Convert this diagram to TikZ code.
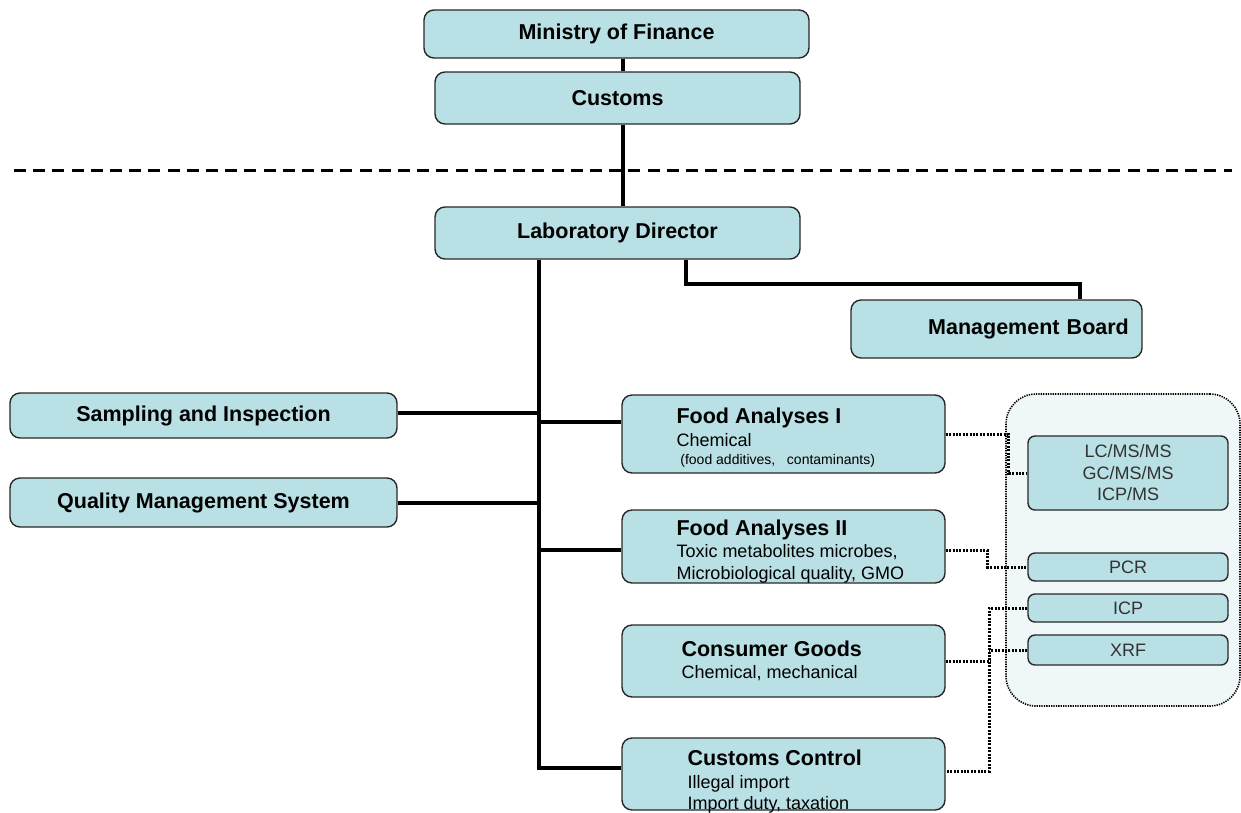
\documentclass[tikz,border=0pt]{standalone}
\usepackage{fontspec}
\setmainfont{Liberation Sans}
\definecolor{boxfill}{RGB}{185,224,228}
\definecolor{boxline}{RGB}{40,40,40}
\definecolor{grpfill}{RGB}{240,247,249}
\definecolor{txtgray}{RGB}{50,50,50}
\newcommand\fsBig{\fontsize{21.5}{25}\selectfont\bfseries}
\newcommand\fsMid{\fontsize{18}{21.5}\selectfont}
\newcommand\fsSm{\fontsize{14}{18}\selectfont}
\tikzset{
  box/.style={draw=boxline, line width=1.4pt, fill=boxfill, rounded corners=10pt, inner sep=0pt, font=\fsBig},
  instr/.style={draw=boxline, line width=1.4pt, fill=boxfill, rounded corners=7pt, inner sep=0pt, font=\fsMid, text=txtgray, align=center},
  grp/.style={draw=black, line width=1.6pt, dash pattern=on 1.3pt off 1.1pt, fill=grpfill, rounded corners=30pt, inner sep=0pt},
  conn/.style={line width=4pt, line cap=butt},
  dotc/.style={line width=3pt, dash pattern=on 2pt off 1.4pt},
  lbl/.style={anchor=west, align=left, font=\fsMid, inner sep=0pt}
}
\begin{document}
\begin{tikzpicture}[x=1pt,y=-1pt]
\useasboundingbox (0,0) rectangle (1241,812);
% group container
\node[grp, minimum width=234pt, minimum height=312pt] (grp) at (1123,550) {};
% top
\node[box, minimum width=385pt, minimum height=48pt] (mof) at (616.5,34) {Ministry of Finance};
\node[box, minimum width=365pt, minimum height=52pt] (cus) at (617.5,98) {Customs};
\node[box, minimum width=365pt, minimum height=52pt] (ld) at (617.5,233) {Laboratory Director};
\node[box, minimum width=291pt, minimum height=58pt, text width=291pt, align=center] (mb) at (996.5,329) {\hspace*{64pt}Management Board};
% left
\node[box, minimum width=387pt, minimum height=45pt] (si) at (203.5,415.5) {Sampling and Inspection};
\node[box, minimum width=387pt, minimum height=49pt] (qms) at (203.5,502.5) {Quality Management System};
% departments
\node[box, minimum width=323pt, minimum height=78pt,
  label={[lbl, xshift=55pt, yshift=-4pt]west:{{\fsBig Food Analyses I}\\[1pt]Chemical\\[-3pt]{\fsSm\ (food additives, \ \ contaminants)}}}] (fa1) at (783.5,434) {};
\node[box, minimum width=323pt, minimum height=73pt,
  label={[lbl, xshift=55pt, yshift=-5pt]west:{{\fsBig Food Analyses II}\\[1pt]Toxic metabolites microbes,\\Microbiological quality, GMO}}] (fa2) at (783.5,546.5) {};
\node[box, minimum width=323pt, minimum height=72pt,
  label={[lbl, xshift=60pt, yshift=0pt]west:{{\fsBig Consumer Goods}\\[1pt]Chemical, mechanical}}] (cg) at (783.5,661) {};
\node[box, minimum width=323pt, minimum height=72pt,
  label={[lbl, xshift=66pt, yshift=-8pt]west:{{\fsBig Customs Control}\\[1pt]Illegal import\\Import duty, taxation}}] (cc) at (783.5,774) {};
% instruments
\node[instr, minimum width=200pt, minimum height=74pt] (lc) at (1128,473) {LC/MS/MS\\GC/MS/MS\\ICP/MS};
\node[instr, minimum width=200pt, minimum height=28pt] (pcr) at (1128,567) {PCR};
\node[instr, minimum width=200pt, minimum height=28pt] (icp) at (1128,608) {ICP};
\node[instr, minimum width=200pt, minimum height=30pt] (xrf) at (1128,650) {XRF};
% dashed separator
\coordinate (dl) at (14,170);
\coordinate (dr) at (1232,170);
\draw[line width=3pt, dash pattern=on 12pt off 7.2pt] (dl) -- (dr);
% solid connectors
\draw[conn] ([xshift=6.5pt]mof.south) -- ([xshift=5.5pt]cus.north);
\draw[conn] ([xshift=5.5pt]cus.south) -- ([xshift=5.5pt]ld.north);
\coordinate (tr) at ([xshift=-78.5pt]ld.south);
\draw[conn] (tr) |- ([yshift=6pt]cc.west);
\draw[conn] ([xshift=68.5pt]ld.south) -- ++(0,24) -| ([xshift=83.5pt]mb.north);
\draw[conn] ([yshift=2.5pt]si.east) -- ([yshift=2.5pt]si.east -| tr);
\draw[conn] (qms.east) -- (qms.east -| tr);
\draw[conn] ([yshift=12pt]fa1.west) -- ([yshift=12pt]fa1.west -| tr);
\draw[conn] ([yshift=-3pt]fa2.west) -- ([yshift=-3pt]fa2.west -| tr);
% dotted connectors
\draw[dotc] (fa1.east) -- ++(63,0) |- (lc.west);
\draw[dotc] ([yshift=-4pt]fa2.east) -- ++(42,0) |- (pcr.west);
\draw[dotc] (icp.west) -- ++(-38,0) |- ([yshift=3pt]cc.east);
\draw[dotc] (xrf.west) -- ++(-38,0);
\draw[dotc] (cg.east) -- ++(45,0);
\end{tikzpicture}
\end{document}
